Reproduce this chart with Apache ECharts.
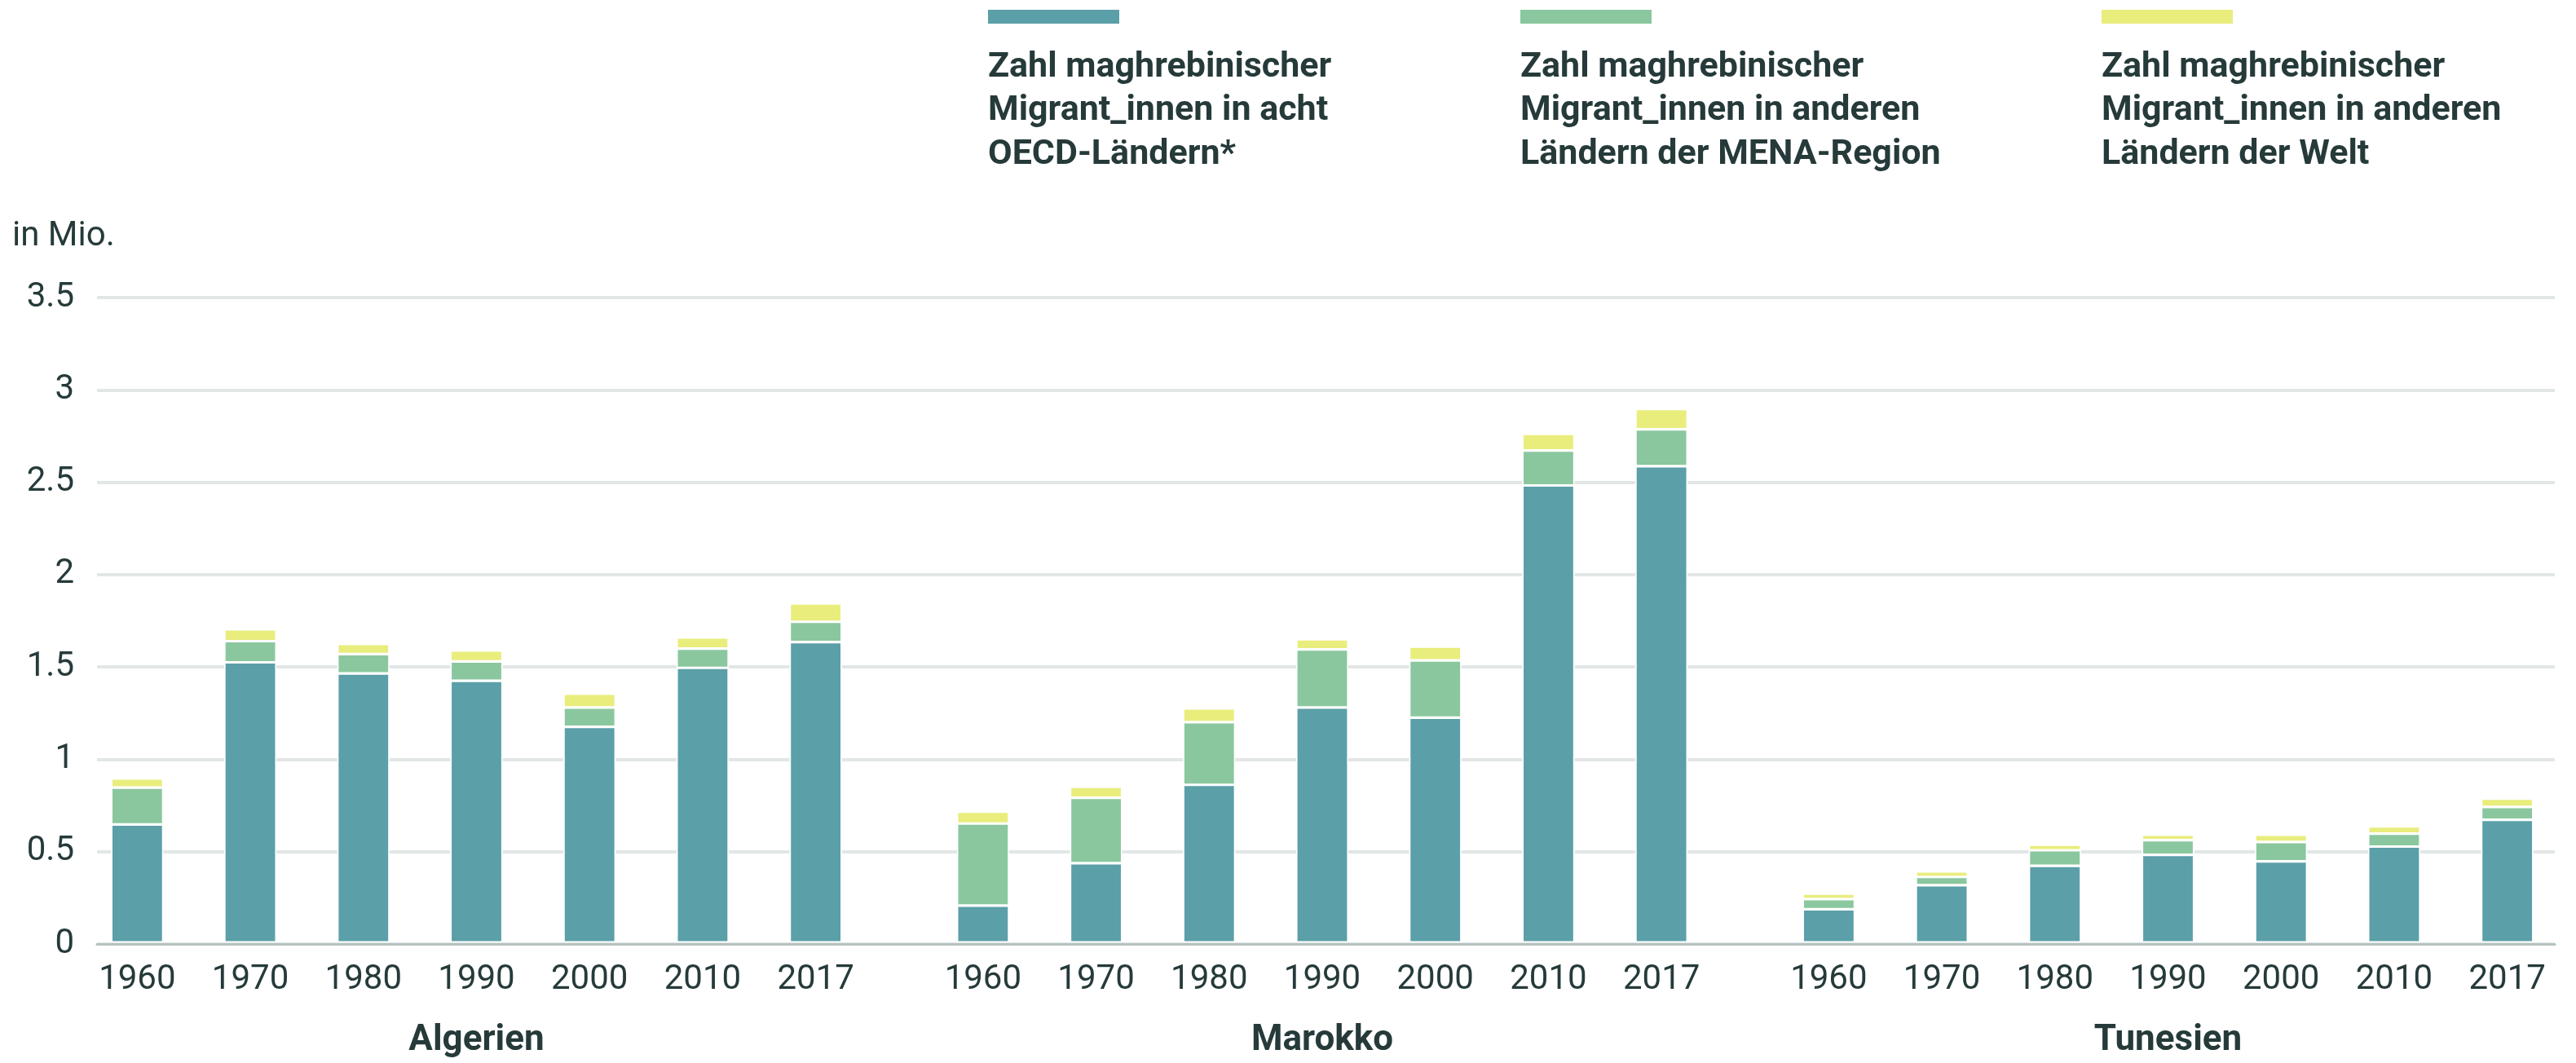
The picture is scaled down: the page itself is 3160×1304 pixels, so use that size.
<!DOCTYPE html>
<html lang="de">
<head>
    <meta charset="UTF-8">
    <title>Maghrebinische Migrant_innen</title>
    <script src="https://cdn.jsdelivr.net/npm/echarts@6/dist/echarts.min.js"></script>
    <style>
        html, body { margin: 0; padding: 0; background: #fff; }
    </style>
</head>
<body>
    <div id="main" style="width: 3160px;height:1304px;"></div>
    <script type="text/javascript">

        // Daten (in Mio.)
        var years = ['1960', '1970', '1980', '1990', '2000', '2010', '2017'];
        var countries = ['Algerien', 'Marokko', 'Tunesien'];
        var seriesNames = [
            'Zahl maghrebinischer\nMigrant_innen in acht\nOECD-Ländern*',
            'Zahl maghrebinischer\nMigrant_innen in anderen\nLändern der MENA-Region',
            'Zahl maghrebinischer\nMigrant_innen in anderen\nLändern der Welt'
        ];
        var colors = ['#5b9fa8', '#8ac79e', '#e9ed7c'];

        var oecd = [
            [0.64, 1.52, 1.46, 1.42, 1.17, 1.49, 1.63],
            [0.20, 0.43, 0.855, 1.275, 1.22, 2.48, 2.585],
            [0.18, 0.31, 0.415, 0.475, 0.44, 0.52, 0.665]
        ];
        var mena = [
            [0.20, 0.115, 0.105, 0.105, 0.105, 0.105, 0.11],
            [0.445, 0.355, 0.34, 0.315, 0.31, 0.19, 0.20],
            [0.055, 0.045, 0.085, 0.08, 0.105, 0.07, 0.07]
        ];
        var welt = [
            [0.05, 0.065, 0.055, 0.06, 0.075, 0.06, 0.10],
            [0.065, 0.06, 0.075, 0.055, 0.075, 0.09, 0.11],
            [0.03, 0.03, 0.03, 0.03, 0.04, 0.04, 0.045]
        ];
        var yTicks = { min: 0, max: 3.5, interval: 0.5 };

        var textColor = '#263a3a';
        var font = 'Roboto, sans-serif';
        var gridTop = 365, gridBottom = 146;

        var myChart = echarts.init(document.getElementById('main'));

        // Hintergrund-Grid mit y-Achse, Gitterlinien und Nulllinie
        var grids = [{ left: 119, right: 26, top: gridTop, bottom: gridBottom }];
        var xAxes = [{
            gridIndex: 0, type: 'value', min: 0, max: 1, z: 10,
            axisLabel: { show: false }, axisTick: { show: false }, splitLine: { show: false },
            axisLine: { show: true, lineStyle: { color: '#b6c3c0', width: 3 } }
        }];
        var yAxes = [{
            gridIndex: 0, type: 'value', min: yTicks.min, max: yTicks.max, interval: yTicks.interval,
            name: 'in Mio.', nameLocation: 'end', nameGap: 54,
            nameTextStyle: { color: textColor, fontSize: 42, fontFamily: font, align: 'left', padding: [0, 0, 0, -104] },
            axisLine: { show: false }, axisTick: { show: false },
            axisLabel: { color: textColor, fontSize: 42, fontFamily: font, margin: 28 },
            splitLine: { lineStyle: { color: '#e2e7e6', width: 4 } }
        }];
        var series = [];

        countries.forEach(function (c, i) {
            var g = i + 1;
            grids.push({ left: 99 + i * 1037.5, width: 971, top: gridTop, bottom: gridBottom });
            xAxes.push({
                gridIndex: g, type: 'category', data: years,
                name: c, nameLocation: 'middle', nameGap: 99,
                nameTextStyle: { color: textColor, fontSize: 44, fontWeight: 'bold', fontFamily: font },
                axisLine: { show: false }, axisTick: { show: false },
                axisLabel: { color: textColor, fontSize: 42, fontFamily: font, margin: 25, interval: 0 }
            });
            yAxes.push({ gridIndex: g, type: 'value', min: yTicks.min, max: yTicks.max, show: false });
            [oecd, mena, welt].forEach(function (arr, k) {
                series.push({
                    name: seriesNames[k], type: 'bar', stack: c,
                    xAxisIndex: g, yAxisIndex: g,
                    barWidth: 64,
                    itemStyle: { color: colors[k], borderColor: '#fff', borderWidth: 1.6 },
                    data: arr[i]
                });
            });
        });

        // Legende oben
        var legendX = [1212, 1865, 2578];
        var graphics = [];
        seriesNames.forEach(function (n, k) {
            graphics.push({ type: 'rect', left: legendX[k], top: 12, shape: { width: 161, height: 17 }, style: { fill: colors[k] } });
            graphics.push({
                type: 'text', left: legendX[k], top: 56,
                style: { text: n, fill: textColor, font: 'bold 43px Roboto, sans-serif', lineHeight: 53.5 }
            });
        });

        var option = {
            animation: false,
            backgroundColor: '#fff',
            grid: grids,
            xAxis: xAxes,
            yAxis: yAxes,
            graphic: graphics,
            series: series
        };
        myChart.setOption(option);

    </script>
</body>
</html>
